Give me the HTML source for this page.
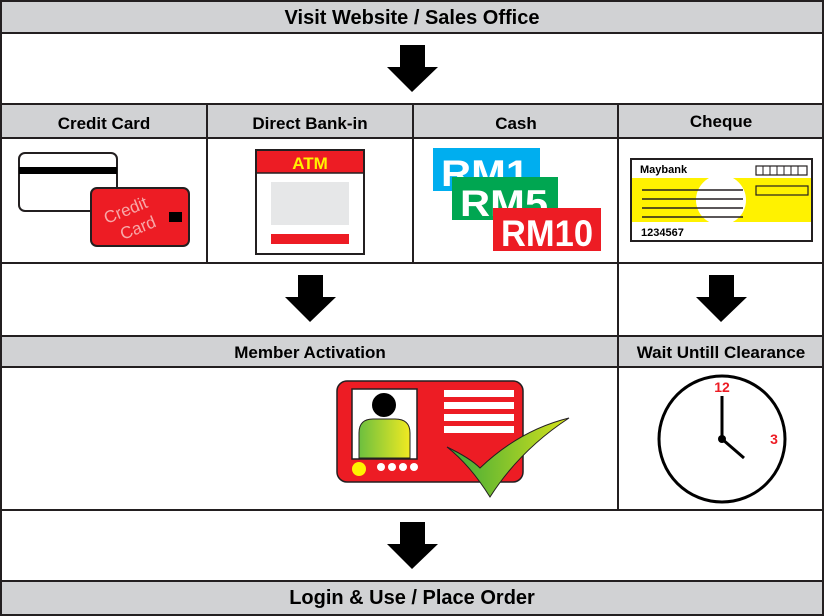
<!DOCTYPE html>
<html><head><meta charset="utf-8"><style>
html,body{margin:0;padding:0;background:#fff}
svg{display:block}
text{font-family:"Liberation Sans",Arial,sans-serif;font-weight:bold}
</style></head><body>
<svg width="824" height="616" viewBox="0 0 824 616" xmlns="http://www.w3.org/2000/svg">
<defs>
<linearGradient id="g1" x1="0" x2="1"><stop offset="0" stop-color="#6cbf3f"/><stop offset="1" stop-color="#f0ea22"/></linearGradient>
<linearGradient id="g2" x1="0" x2="1"><stop offset="0" stop-color="#3aa83a"/><stop offset="1" stop-color="#d6e21c"/></linearGradient>
</defs>
<rect x="0" y="0" width="824" height="33" fill="#d1d2d4"/>
<rect x="0" y="104" width="824" height="34" fill="#d1d2d4"/>
<rect x="0" y="336" width="824" height="31" fill="#d1d2d4"/>
<rect x="0" y="581" width="824" height="35" fill="#d1d2d4"/>
<g stroke="#231f20" stroke-width="2" fill="none">
<rect x="1" y="1" width="822" height="614"/>
<line x1="0" y1="33" x2="824" y2="33"/>
<line x1="0" y1="104" x2="824" y2="104"/>
<line x1="0" y1="138" x2="824" y2="138"/>
<line x1="0" y1="263" x2="824" y2="263"/>
<line x1="0" y1="336" x2="824" y2="336"/>
<line x1="0" y1="367" x2="824" y2="367"/>
<line x1="0" y1="510" x2="824" y2="510"/>
<line x1="0" y1="581" x2="824" y2="581"/>
<line x1="207" y1="104" x2="207" y2="263"/>
<line x1="413" y1="104" x2="413" y2="263"/>
<line x1="618" y1="104" x2="618" y2="510"/>
</g>
<text x="412" y="24" font-size="20" text-anchor="middle" fill="#000">Visit Website / Sales Office</text>
<text x="412" y="604" font-size="20" text-anchor="middle" fill="#000">Login &amp; Use / Place Order</text>
<g font-size="17" text-anchor="middle" fill="#000">
<text x="104" y="129">Credit Card</text>
<text x="310" y="129">Direct Bank-in</text>
<text x="516" y="129">Cash</text>
<text x="721" y="127">Cheque</text>
<text x="310" y="358">Member Activation</text>
<text x="721" y="358">Wait Untill Clearance</text>
</g>
<g fill="#000">
<path d="M400 45 H425 V67 H438 L412 92 L387 67 H400 Z"/>
<path d="M298 275 H323 V297 H336 L310 322 L285 297 H298 Z"/>
<path d="M709 275 H734 V297 H747 L721 322 L696 297 H709 Z"/>
<path d="M400 522 H425 V544 H438 L412 569 L387 544 H400 Z"/>
</g>
<rect x="19" y="153" width="98" height="58" rx="6" fill="#fff" stroke="#231f20" stroke-width="2"/>
<rect x="19" y="167" width="98" height="7" fill="#000"/>
<rect x="91" y="188" width="98" height="58" rx="6" fill="#ed1c24" stroke="#231f20" stroke-width="2"/>
<rect x="169" y="212" width="13" height="10" fill="#000"/>
<g fill="#f7a8a8" transform="rotate(-22 132 217)">
<text x="106" y="214" font-size="17" style="font-weight:normal">Credit</text>
<text x="115" y="235" font-size="17" style="font-weight:normal">Card</text>
</g>
<rect x="256" y="150" width="108" height="104" fill="#fff" stroke="#231f20" stroke-width="2"/>
<rect x="257" y="151" width="106" height="22" fill="#ed1c24"/>
<line x1="256" y1="173" x2="364" y2="173" stroke="#231f20" stroke-width="1.5"/>
<text x="310" y="169" font-size="17" text-anchor="middle" fill="#fff200">ATM</text>
<rect x="271" y="182" width="78" height="43" fill="#e6e7e8"/>
<rect x="271" y="234" width="78" height="10" fill="#ed1c24"/>
<rect x="433" y="148" width="107" height="43" fill="#00aeef"/>
<text x="485" y="186" font-size="37" text-anchor="middle" fill="#fff" textLength="88" lengthAdjust="spacingAndGlyphs">RM1</text>
<rect x="452" y="177" width="106" height="43" fill="#00a651"/>
<text x="504" y="216" font-size="37" text-anchor="middle" fill="#fff" textLength="88" lengthAdjust="spacingAndGlyphs">RM5</text>
<rect x="493" y="208" width="108" height="43" fill="#ed1c24"/>
<text x="547" y="246" font-size="37" text-anchor="middle" fill="#fff" textLength="92" lengthAdjust="spacingAndGlyphs">RM10</text>
<rect x="631" y="159" width="181" height="82" fill="#fff" stroke="#231f20" stroke-width="2"/>
<rect x="632" y="178" width="179" height="44" fill="#fff200"/>
<circle cx="721" cy="200" r="25" fill="#fff"/>
<g stroke="#231f20" stroke-width="1.5"><line x1="642" y1="190" x2="743" y2="190"/><line x1="642" y1="199" x2="743" y2="199"/><line x1="642" y1="208" x2="743" y2="208"/><line x1="642" y1="217" x2="743" y2="217"/></g>
<rect x="756" y="166" width="51" height="9" fill="#fff" stroke="#231f20" stroke-width="1.2"/>
<g stroke="#231f20" stroke-width="1"><line x1="763" y1="166" x2="763" y2="175"/><line x1="770" y1="166" x2="770" y2="175"/><line x1="777" y1="166" x2="777" y2="175"/><line x1="784" y1="166" x2="784" y2="175"/><line x1="791" y1="166" x2="791" y2="175"/><line x1="798" y1="166" x2="798" y2="175"/></g>
<rect x="756" y="186" width="52" height="9" fill="none" stroke="#231f20" stroke-width="1.2"/>
<text x="640" y="173" font-size="11" fill="#000">Maybank</text>
<text x="641" y="236" font-size="11" fill="#000">1234567</text>
<rect x="337" y="381" width="186" height="101" rx="10" fill="#ed1c24" stroke="#231f20" stroke-width="1.5"/>
<rect x="352" y="389" width="65" height="70" fill="#fff" stroke="#231f20" stroke-width="1.5"/>
<circle cx="384" cy="405" r="12" fill="#000"/>
<path d="M359 458 V433 Q359 419 373 419 H395 Q410 419 410 433 V458 Z" fill="url(#g1)" stroke="#231f20" stroke-width="1"/>
<circle cx="359" cy="469" r="7" fill="#fff200"/>
<g fill="#fff"><circle cx="381" cy="467" r="4"/><circle cx="392" cy="467" r="4"/><circle cx="403" cy="467" r="4"/><circle cx="414" cy="467" r="4"/></g>
<g fill="#fff"><rect x="444" y="390" width="70" height="7"/><rect x="444" y="402" width="70" height="7"/><rect x="444" y="414" width="70" height="7"/><rect x="444" y="426" width="70" height="7"/></g>
<path d="M447 447 Q470 458 480 468 Q520 430 569 418 Q520 450 490 497 Q470 465 447 447 Z" fill="url(#g2)" stroke="#231f20" stroke-width="1"/>
<circle cx="722" cy="439" r="63" fill="#fff" stroke="#000" stroke-width="3"/>
<line x1="722" y1="396" x2="722" y2="439" stroke="#000" stroke-width="3"/>
<line x1="722" y1="439" x2="744" y2="458" stroke="#000" stroke-width="3"/>
<circle cx="722" cy="439" r="4" fill="#000"/>
<text x="722" y="392" font-size="14" text-anchor="middle" fill="#ed1c24">12</text>
<text x="774" y="444" font-size="14" text-anchor="middle" fill="#ed1c24">3</text>
</svg>
</body></html>
